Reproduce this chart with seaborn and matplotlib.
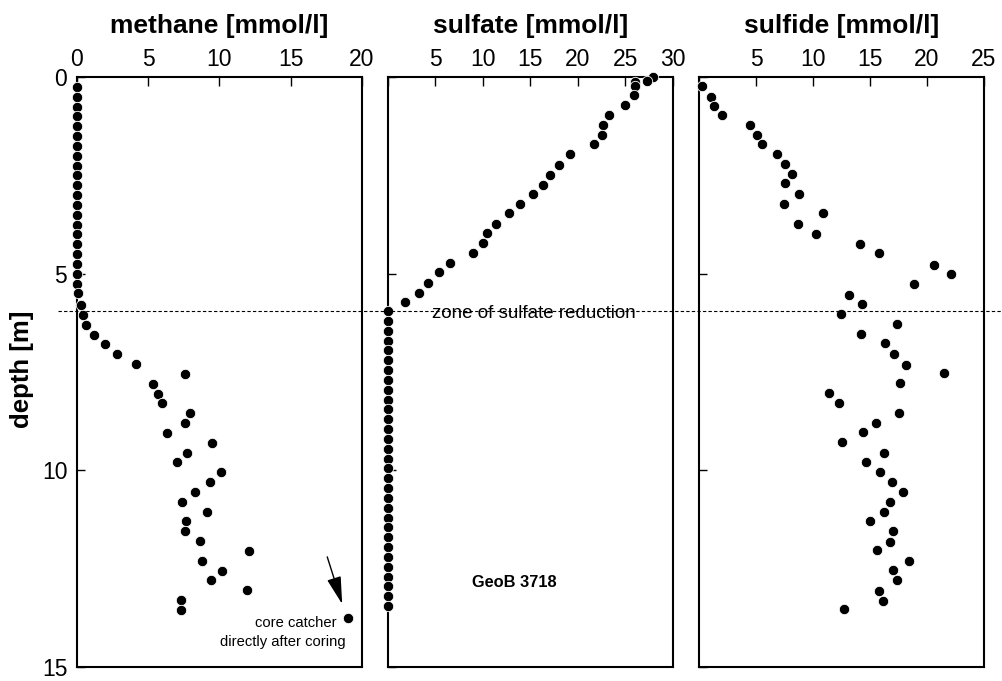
import matplotlib
matplotlib.use("Agg")
import matplotlib.pyplot as plt
import matplotlib.transforms as mtransforms
from matplotlib.lines import Line2D
import seaborn as sns
import pandas as pd

# ---------------- data ----------------
methane_depth = [0.25, 0.5, 0.75, 1.0, 1.25, 1.5, 1.75, 2.0, 2.25, 2.5, 2.75, 3.0,
                 3.25, 3.5, 3.75, 4.0, 4.25, 4.5, 4.75, 5.0, 5.25, 5.5,
                 5.8, 6.05, 6.3, 6.55, 6.8, 7.05, 7.3, 7.55, 7.8, 8.05, 8.3, 8.55,
                 8.8, 9.05, 9.3, 9.55, 9.8, 10.05, 10.3, 10.55, 10.8, 11.05, 11.3,
                 11.55, 11.8, 12.05, 12.3, 12.55, 12.8, 13.05, 13.3, 13.55, 13.75]
methane_value = [0.0, 0.0, 0.0, 0.0, 0.0, 0.0, 0.0, 0.0, 0.0, 0.0, 0.0, 0.0,
                 0.0, 0.0, 0.0, 0.0, 0.0, 0.0, 0.0, 0.0, 0.0, 0.05,
                 0.28, 0.4, 0.63, 1.2, 2.0, 2.8, 4.15, 7.6, 5.3, 5.7, 6.0, 7.9,
                 7.55, 6.3, 9.5, 7.7, 7.0, 10.1, 9.3, 8.3, 7.4, 9.1, 7.65,
                 7.6, 8.65, 12.1, 8.8, 10.2, 9.4, 11.9, 7.3, 7.3, 19.0]

sulfate_depth = [0.0, 0.1, 0.12, 0.23, 0.46, 0.7, 0.97, 1.22, 1.47, 1.71, 1.97, 2.23,
                 2.49, 2.74, 2.97, 3.22, 3.47, 3.73, 3.97, 4.23, 4.47, 4.72, 4.97,
                 5.23, 5.48, 5.71,
                 5.95, 6.2, 6.45, 6.7, 6.95, 7.2, 7.45, 7.7, 7.95, 8.2, 8.45, 8.7,
                 8.95, 9.2, 9.45, 9.7, 9.95, 10.2, 10.45, 10.7, 10.95, 11.2, 11.45,
                 11.7, 11.95, 12.2, 12.45, 12.7, 12.95, 13.2, 13.45]
sulfate_value = [27.9, 27.3, 26.0, 26.0, 25.9, 24.9, 23.25, 22.65, 22.5, 21.7, 19.2, 18.0,
                 17.1, 16.3, 15.3, 13.9, 12.7, 11.4, 10.4, 10.0, 9.0, 6.5, 5.4,
                 4.25, 3.3, 1.75,
                 0.0, 0.0, 0.0, 0.0, 0.0, 0.0, 0.0, 0.0, 0.0, 0.0, 0.0, 0.0,
                 0.0, 0.0, 0.0, 0.0, 0.0, 0.0, 0.0, 0.0, 0.0, 0.0, 0.0,
                 0.0, 0.0, 0.0, 0.0, 0.0, 0.0, 0.0, 0.0]

sulfide_depth = [0.23, 0.5, 0.74, 0.97, 1.22, 1.47, 1.71, 1.97, 2.22, 2.47, 2.7, 2.97,
                 3.23, 3.47, 3.73, 3.98, 4.24, 4.47, 4.78, 5.02, 5.27, 5.53, 5.78,
                 6.03, 6.29, 6.54, 6.76, 7.04, 7.32, 7.53, 7.77, 8.03, 8.28, 8.53,
                 8.79, 9.03, 9.28, 9.55, 9.8, 10.04, 10.3, 10.54, 10.8, 11.05, 11.3,
                 11.53, 11.81, 12.03, 12.31, 12.54, 12.8, 13.06, 13.32, 13.53]
sulfide_value = [0.24, 1.03, 1.32, 2.05, 4.49, 5.13, 5.55, 6.87, 7.54, 8.19, 7.54, 8.8,
                 7.48, 10.85, 8.69, 10.25, 14.15, 15.76, 20.6, 22.1, 18.9, 13.14, 14.26,
                 12.44, 17.37, 14.2, 16.35, 17.08, 18.16, 21.5, 17.67, 11.38, 12.3, 17.54,
                 15.55, 14.35, 12.5, 16.22, 14.67, 15.9, 16.9, 17.87, 16.73, 16.22, 14.96,
                 17.0, 16.73, 15.64, 18.42, 17.0, 17.37, 15.78, 16.17, 12.68]

panel_titles = ["methane [mmol/l]", "sulfate [mmol/l]", "sulfide [mmol/l]"]
panel_xmax = [20, 30, 25]
panel_xticks = [[0, 5, 10, 15, 20], [0, 5, 10, 15, 20, 25, 30], [0, 5, 10, 15, 20, 25]]
panel_xticklabels = [["0", "5", "10", "15", "20"],
                     ["", "5", "10", "15", "20", "25", "30"],
                     ["", "5", "10", "15", "20", "25"]]
depth_ticks = [0, 5, 10, 15]
sulfate_zone_depth = 5.95

# ---------------- style ----------------
sns.set_theme(style="white")
plt.rcParams["font.family"] = ["Liberation Sans", "DejaVu Sans"]

fig = plt.figure(figsize=(10.03, 6.81), dpi=100)
lefts = [77 / 1003, 388 / 1003, 699 / 1003]
w = 285 / 1003
bottom = 1 - 667 / 681
h = 590 / 681
axes = [fig.add_axes([l, bottom, w, h]) for l in lefts]

frames = [
    pd.DataFrame({"value": methane_value, "depth": methane_depth}),
    pd.DataFrame({"value": sulfate_value, "depth": sulfate_depth}),
    pd.DataFrame({"value": sulfide_value, "depth": sulfide_depth}),
]

for i, (ax, df) in enumerate(zip(axes, frames)):
    sns.scatterplot(data=df, x="value", y="depth", ax=ax, color="black",
                    s=56, edgecolor="white", linewidth=0.6, clip_on=False, zorder=5)
    ax.set_xlim(0, panel_xmax[i])
    ax.set_ylim(15, 0)
    ax.set_xlabel("")
    ax.set_ylabel("")
    ax.xaxis.tick_top()
    ax.set_xticks(panel_xticks[i])
    ax.set_xticklabels(panel_xticklabels[i])
    ax.set_yticks(depth_ticks)
    if i == 0:
        ax.set_yticklabels([str(t) for t in depth_ticks])
    else:
        ax.set_yticklabels([""] * len(depth_ticks))
    ax.tick_params(axis="x", which="both", direction="in", length=6.5, width=1,
                   color="black", labelsize=16.5, pad=4, top=True, bottom=False,
                   labeltop=True, labelbottom=False, labelcolor="black")
    ax.tick_params(axis="y", which="both", direction="in", length=6, width=1,
                   color="black", labelsize=16.5, pad=7, left=True, right=False,
                   labelcolor="black")
    for sp in ax.spines.values():
        sp.set_visible(True)
        sp.set_color("black")
        sp.set_linewidth(1.5)
    ax.set_facecolor("white")
    ax.text(0.5, 1.0746, panel_titles[i], transform=ax.transAxes, ha="center",
            va="baseline", fontsize=19, fontweight="bold", color="black")

# y label
fig.text(22 / 1003, 1 - 369 / 681, "depth [m]", rotation=90, ha="center", va="center",
         fontsize=18.5, fontweight="bold", color="black")

# dashed line: zone of sulfate reduction
blend = mtransforms.blended_transform_factory(fig.transFigure, axes[0].transData)
fig.add_artist(Line2D([58 / 1003, 1.0], [sulfate_zone_depth, sulfate_zone_depth],
                      transform=blend, color="black", linewidth=0.8,
                      linestyle=(0, (3, 2)), zorder=10))
axes[1].text(15.4, 6.02, "zone of sulfate reduction", ha="center", va="center",
             fontsize=13.5, color="black", zorder=11,
             bbox=dict(facecolor="white", edgecolor="none", pad=0.5))

# GeoB label
axes[1].text(13.3, 12.84, "GeoB 3718", ha="center", va="center", fontsize=11.8,
             fontweight="bold", color="black")

# core catcher annotation
axes[0].annotate("", xy=(18.61, 13.40), xytext=(17.56, 12.20),
                 arrowprops=dict(arrowstyle="-|>,head_length=0.85,head_width=0.22",
                                 mutation_scale=20, color="black", lw=1,
                                 shrinkA=0, shrinkB=0))
axes[0].text(15.35, 13.88, "core catcher", ha="center", va="center", fontsize=10.6,
             color="black")
axes[0].text(14.47, 14.37, "directly after coring", ha="center", va="center",
             fontsize=10.6, color="black")

fig.savefig("out.png", dpi=100, facecolor="white")
